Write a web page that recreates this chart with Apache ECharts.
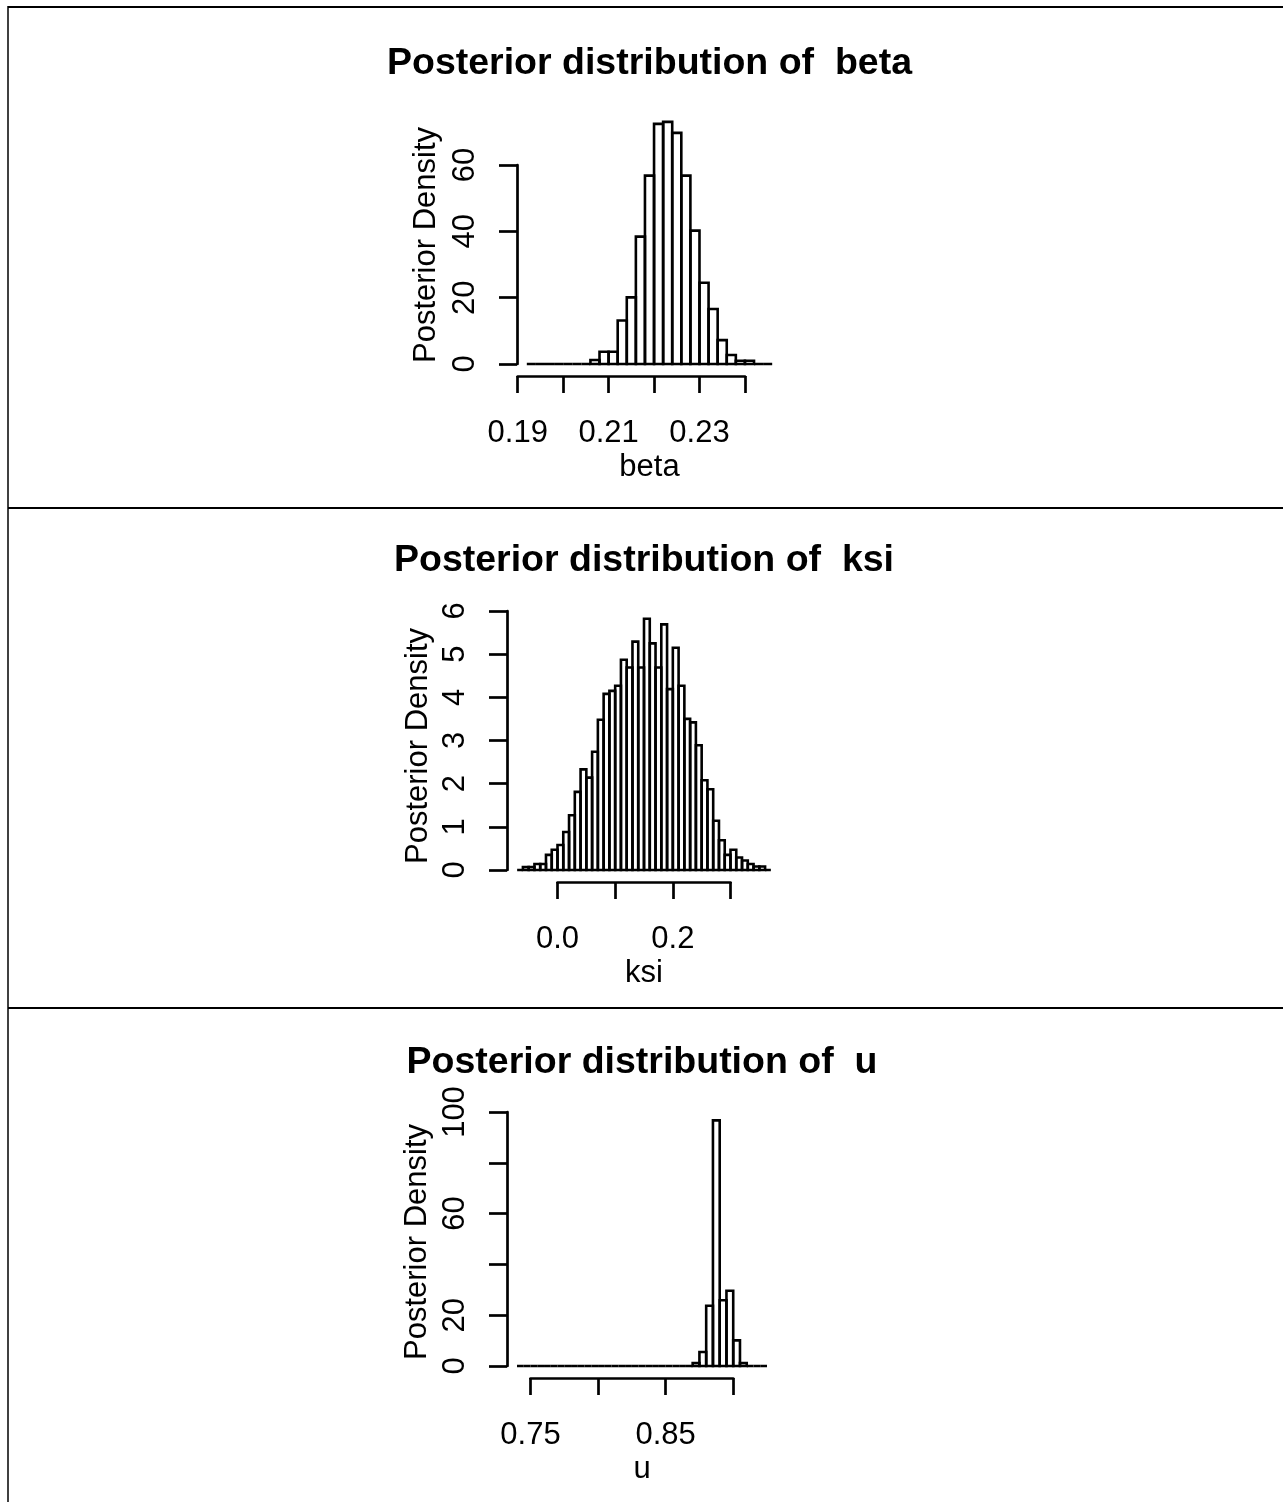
<!DOCTYPE html>
<html>
<head>
<meta charset="utf-8">
<script src="https://cdn.jsdelivr.net/npm/echarts@6/dist/echarts.min.js"></script>
<style>
  html, body { margin: 0; padding: 0; background: #fff; }
  #chart { width: 1283px; height: 1502px; }
</style>
</head>
<body>
<div id="chart"></div>
<script>
// histogram densities (one value per bin)
var betaBreakStart = 0.192, betaBinWidth = 0.002;
var betaDensity = [0, 0, 0, 0, 0, 0, 0,
  1.2, 3.7, 3.7, 13.1, 20.1, 38.4, 56.8, 72.4, 73.0, 69.7, 56.8, 40.2, 24.5, 16.6, 7.2, 2.7, 1.0, 1.0,
  0, 0];

var ksiBreakStart = -0.07, ksiBinWidth = 0.01;
var ksiDensity = [0, 0.07, 0.07, 0.14, 0.14, 0.35, 0.47, 0.58, 0.88, 1.27, 1.81, 2.33, 2.14, 2.74,
  3.48, 4.08, 4.15, 4.27, 4.87, 4.69, 5.29, 4.69, 5.82, 5.25, 4.69, 5.69, 4.19, 5.15, 4.27, 3.50,
  3.42, 2.89, 2.08, 1.87, 1.14, 0.69, 0.35, 0.47, 0.29, 0.22, 0.14, 0.08, 0.08, 0];

var uBreakStart = 0.74, uBinWidth = 0.005;
var uDensity = [0, 0, 0, 0, 0, 0, 0, 0, 0, 0, 0, 0, 0, 0, 0, 0, 0, 0, 0, 0, 0, 0, 0, 0, 0, 0,
  1.2, 5.5, 23.7, 96.7, 25.9, 29.6, 10.1, 1.2,
  0, 0, 0];

// axis ticks [min, max, step] and their labels
var betaXTicks = [0.19, 0.24, 0.01];
var betaXLabels = ['0.19', '', '0.21', '', '0.23', ''];
var betaYTicks = [0, 60, 20];
var betaYLabels = ['0', '20', '40', '60'];

var ksiXTicks = [0.0, 0.3, 0.1];
var ksiXLabels = ['0.0', '', '0.2', ''];
var ksiYTicks = [0, 6, 1];
var ksiYLabels = ['0', '1', '2', '3', '4', '5', '6'];

var uXTicks = [0.75, 0.90, 0.05];
var uXLabels = ['0.75', '', '0.85', ''];
var uYTicks = [0, 100, 20];
var uYLabels = ['0', '20', '', '60', '', '100'];

var FONT = '"Liberation Sans", Arial, sans-serif';

var panels = [
  { name: 'beta', start: betaBreakStart, bw: betaBinWidth, dens: betaDensity,
    xt: betaXTicks, xl: betaXLabels, yt: betaYTicks, yl: betaYLabels,
    left: 517, right: 782, top: 165, base: 364, titleY: 64, ylabX: 426, ylabY: 245 },
  { name: 'ksi', start: ksiBreakStart, bw: ksiBinWidth, dens: ksiDensity,
    xt: ksiXTicks, xl: ksiXLabels, yt: ksiYTicks, yl: ksiYLabels,
    left: 507, right: 781, top: 611, base: 870, titleY: 561, ylabX: 418, ylabY: 746 },
  { name: 'u', start: uBreakStart, bw: uBinWidth, dens: uDensity,
    xt: uXTicks, xl: uXLabels, yt: uYTicks, yl: uYLabels,
    left: 507, right: 777, top: 1112, base: 1366, titleY: 1063, ylabX: 417, ylabY: 1242 }
];

function histItem(params, api) {
  var a = api.coord([api.value(0), 0]);
  var b = api.coord([api.value(1), api.value(2)]);
  return {
    type: 'rect',
    shape: { x: a[0], y: b[1], width: b[0] - a[0], height: a[1] - b[1] },
    style: { fill: 'none', stroke: '#000', lineWidth: 2.6 }
  };
}

function tickFormatter(labels, t) {
  return function (v) { return labels[Math.round((v - t[0]) / t[2])] || ''; };
}

var grids = [], xAxes = [], yAxes = [], series = [], graphics = [];

panels.forEach(function (p, i) {
  var n = p.dens.length;
  var lo = p.start, hi = p.start + n * p.bw;
  var pad = (hi - lo) * 0.04;
  var xmin = lo - pad, xmax = hi + pad;
  var w = p.right - p.left;
  function px(v) { return p.left + (v - xmin) / (xmax - xmin) * w; }

  var data = p.dens.map(function (d, k) {
    return [p.start + k * p.bw, p.start + (k + 1) * p.bw, d];
  });

  // main plotting grid
  grids.push({ left: p.left, top: p.top, width: w, height: p.base - p.top });
  xAxes.push({ type: 'value', gridIndex: 2 * i, min: xmin, max: xmax, show: false });
  yAxes.push({
    type: 'value', gridIndex: 2 * i, min: p.yt[0], max: p.yt[1], interval: p.yt[2],
    axisLine: { show: true, onZero: false, lineStyle: { color: '#000', width: 2.7 } },
    axisTick: { show: true, length: 18, lineStyle: { color: '#000', width: 2.7 } },
    splitLine: { show: false },
    axisLabel: {
      rotate: 90, margin: 36, fontFamily: FONT, fontSize: 31, color: '#000',
      formatter: tickFormatter(p.yl, p.yt)
    }
  });
  series.push({
    type: 'custom', xAxisIndex: 2 * i, yAxisIndex: 2 * i,
    renderItem: histItem, data: data, encode: { x: [0, 1], y: 2 }, clip: false
  });

  // x axis strip spanning only the pretty ticks, set below the plot like R
  var axLeft = px(p.xt[0]), axRight = px(p.xt[1]);
  grids.push({ left: axLeft, top: p.base + 2, width: axRight - axLeft, height: 10 });
  xAxes.push({
    type: 'value', gridIndex: 2 * i + 1, min: p.xt[0], max: p.xt[1], interval: p.xt[2],
    axisLine: { show: true, onZero: false, lineStyle: { color: '#000', width: 2.7 } },
    axisTick: { show: true, length: 17, lineStyle: { color: '#000', width: 2.7 } },
    splitLine: { show: false },
    axisLabel: {
      margin: 42, fontFamily: FONT, fontSize: 31, color: '#000', showMinLabel: true, showMaxLabel: true,
      formatter: tickFormatter(p.xl, p.xt)
    }
  });
  yAxes.push({ type: 'value', gridIndex: 2 * i + 1, min: 0, max: 1, show: false });

  var cx = (p.left + p.right) / 2;
  graphics.push({
    type: 'text', x: cx, y: p.titleY,
    style: {
      text: 'Posterior distribution of  ' + p.name, fill: '#000',
      font: 'bold 37.5px ' + FONT, textAlign: 'center', textVerticalAlign: 'middle'
    }
  });
  // axis titles, centred on the plot region as R does
  graphics.push({
    type: 'text', x: cx, y: p.base + 103,
    style: { text: p.name, fill: '#000', font: '31px ' + FONT, textAlign: 'center', textVerticalAlign: 'middle' }
  });
  graphics.push({
    type: 'text', x: p.ylabX, y: p.ylabY, rotation: Math.PI / 2,
    style: { text: 'Posterior Density', fill: '#000', font: '31px ' + FONT, textAlign: 'center', textVerticalAlign: 'middle' }
  });
});

// panel frame lines
var frame = [[8, 7, 1283, 7], [8, 508, 1283, 508], [8, 1008, 1283, 1008]];
frame.forEach(function (f) {
  graphics.push({ type: 'line', shape: { x1: f[0], y1: f[1], x2: f[2], y2: f[3] },
    style: { stroke: '#000', lineWidth: 2 } });
});
graphics.push({ type: 'line', shape: { x1: 8, y1: 6, x2: 8, y2: 1502 },
  style: { stroke: '#000', lineWidth: 1.5 } });

var chart = echarts.init(document.getElementById('chart'), null, { renderer: 'canvas' });
chart.setOption({
  backgroundColor: '#fff',
  animation: false,
  grid: grids,
  xAxis: xAxes,
  yAxis: yAxes,
  series: series,
  graphic: graphics
});
</script>
</body>
</html>
